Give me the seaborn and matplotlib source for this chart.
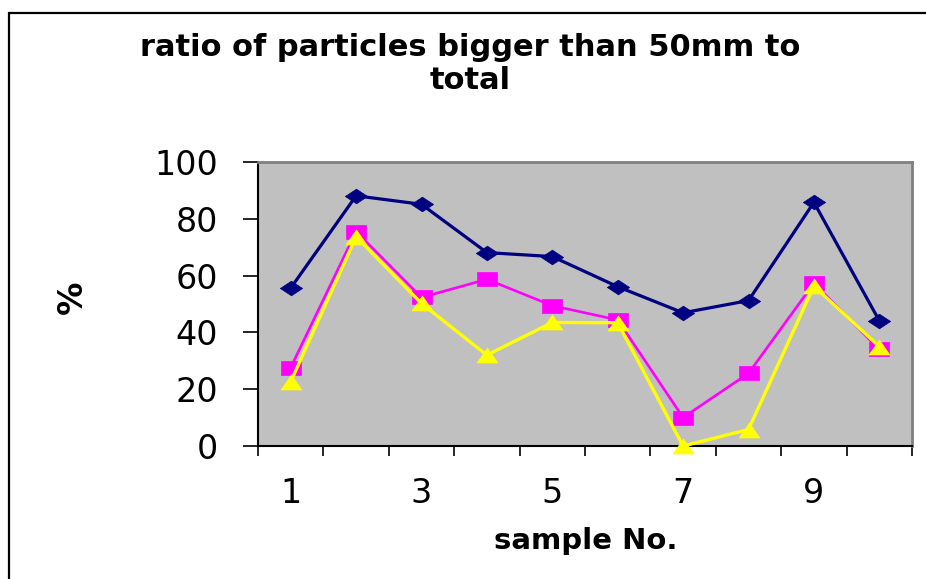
import matplotlib
matplotlib.use("Agg")
import matplotlib.pyplot as plt
import seaborn as sns
import pandas as pd
from matplotlib.patches import Rectangle
from matplotlib.ticker import FixedLocator, NullFormatter

# ---- data ----
samples = list(range(1, 11))
series_1 = [55.6, 88.1, 85.1, 68.1, 66.7, 56.1, 46.9, 51.2, 85.8, 44.1]
series_2 = [27.6, 75.5, 52.3, 58.7, 49.4, 44.4, 10.0, 25.6, 57.3, 34.0]
series_3 = [22.6, 73.7, 50.2, 32.0, 43.5, 43.4, 0.0, 5.8, 56.3, 35.0]
x_tick_values = [1, 3, 5, 7, 9]
x_tick_labels = ["1", "3", "5", "7", "9"]
y_tick_values = [0, 20, 40, 60, 80, 100]
title_text = "ratio of particles bigger than 50mm to\ntotal"
x_label = "sample No."
y_label = "%"

sns.set_style("white")
plt.rcParams["font.family"] = ["DejaVu Sans"]
plt.rcParams["text.color"] = "black"
plt.rcParams["axes.labelcolor"] = "black"
plt.rcParams["xtick.color"] = "black"
plt.rcParams["ytick.color"] = "black"

W, H = 926, 579
fig = plt.figure(figsize=(W / 100, H / 100), dpi=100)
ax = fig.add_axes([258 / W, 1 - 446 / H, (912 - 258) / W, (446 - 162) / H])
ax.set_facecolor("#C0C0C0")

diamond = [(-1, 0), (0, 0.66), (1, 0), (0, -0.66), (-1, 0)]
square = [(-1, -0.7), (1, -0.7), (1, 0.7), (-1, 0.7), (-1, -0.7)]
triangle = [(-1, -0.72), (1, -0.72), (0, 0.72), (-1, -0.72)]

df = pd.DataFrame({"sample": samples, "s1": series_1, "s2": series_2, "s3": series_3})

specs = [("s1", "#000080", diamond, 16, 2.3),
         ("s2", "#FF00FF", square, 14, 1.9),
         ("s3", "#FFFF00", triangle, 15, 2.4)]
for col, color, mk, ms, lw in specs:
    sns.lineplot(data=df, x="sample", y=col, ax=ax, color=color, linewidth=lw,
                 marker=mk, markersize=ms, markerfacecolor=color,
                 markeredgecolor=color, markeredgewidth=0.5, estimator=None,
                 clip_on=False, zorder=3)

ax.set_xlim(0.5, 10.5)
ax.set_ylim(0, 100)

# ticks
ax.xaxis.set_major_locator(FixedLocator(x_tick_values))
ax.set_xticklabels(x_tick_labels)
ax.xaxis.set_minor_locator(FixedLocator([i + 0.5 for i in range(0, 11)]))
ax.xaxis.set_minor_formatter(NullFormatter())
ax.tick_params(axis="x", which="major", length=0, pad=22, labelsize=24,
               labelcolor="black")
ax.tick_params(axis="x", which="minor", direction="out", length=7, width=1.2,
               color="black", bottom=True)
ax.set_yticks(y_tick_values)
ax.tick_params(axis="y", which="major", direction="out", length=11, width=1.2,
               pad=18, labelsize=24, color="black", labelcolor="black", left=True)

# spines
for s in ["top", "right"]:
    ax.spines[s].set_visible(True)
    ax.spines[s].set_color("#808080")
    ax.spines[s].set_linewidth(2)
for s in ["left", "bottom"]:
    ax.spines[s].set_color("black")
    ax.spines[s].set_linewidth(1.5)

ax.set_xlabel("")
ax.set_ylabel("")

# labels and title
fig.text(586 / W, 1 - 541 / H, x_label, ha="center", va="center",
         fontsize=21, fontweight="bold", color="black")
fig.text(72 / W, 1 - 297 / H, y_label, ha="center", va="center",
         fontsize=24, fontweight="bold", rotation=90, color="black")
fig.text(470 / W, 1 - 64 / H, title_text, ha="center", va="center",
         fontsize=22, fontweight="bold", linespacing=1.2, color="black")

# chart-area border
fig.add_artist(Rectangle((9 / W, -0.1), 1.2, 1 - 13 / H + 0.1,
                         transform=fig.transFigure, fill=False,
                         edgecolor="black", linewidth=1.6))

fig.savefig("out.png", dpi=100)
